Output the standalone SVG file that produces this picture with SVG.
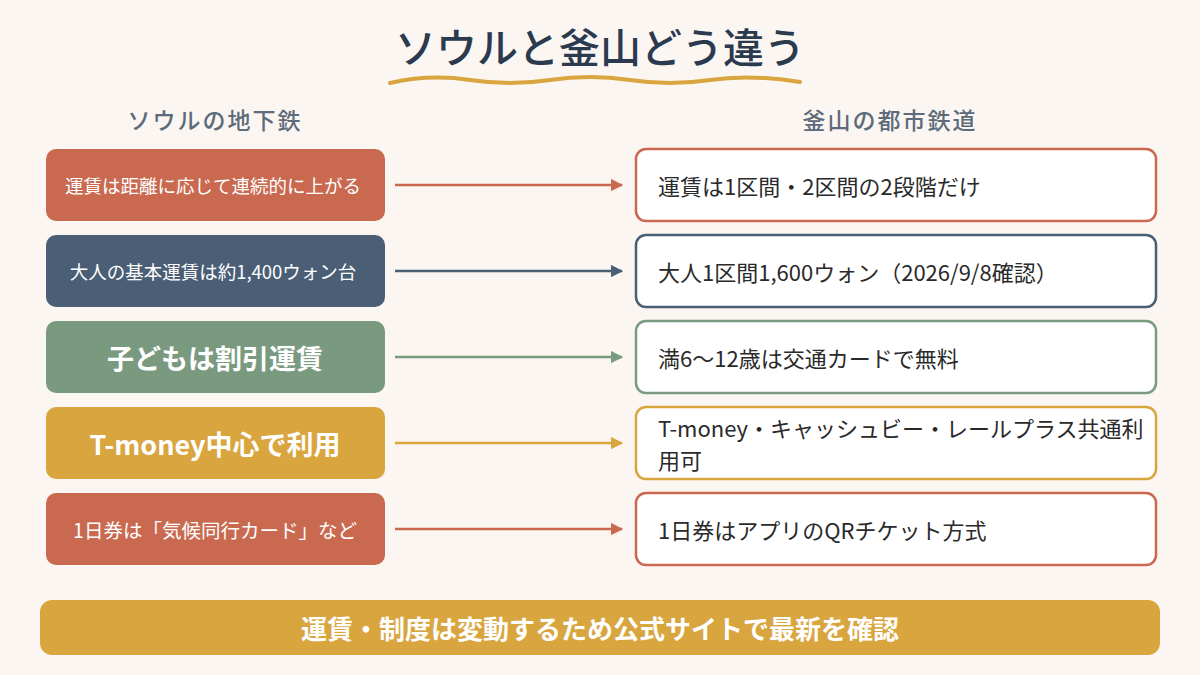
<svg xmlns="http://www.w3.org/2000/svg" width="1200" height="675" viewBox="0 0 1200 675">
<defs>
<style>
text{font-family:"Noto Sans CJK JP","Noto Sans",sans-serif}
.lt{fill:#fff;text-anchor:middle;dominant-baseline:central}
.rt{fill:#2a2a2a;font-size:22px;dominant-baseline:central}
.rb{fill:#fff;stroke-width:2.5}
.hd{fill:#5d6b7a;font-size:23px;text-anchor:middle;font-weight:500;letter-spacing:2px}
.ar{stroke-width:2.5;fill:none}
</style>
<marker id="mo" viewBox="0 0 10 10" refX="9" refY="5" markerWidth="5" markerHeight="5" orient="auto"><path d="M0,0L10,5L0,10z" fill="#c96a50"/></marker>
<marker id="mn" viewBox="0 0 10 10" refX="9" refY="5" markerWidth="5" markerHeight="5" orient="auto"><path d="M0,0L10,5L0,10z" fill="#4a5e75"/></marker>
<marker id="mg" viewBox="0 0 10 10" refX="9" refY="5" markerWidth="5" markerHeight="5" orient="auto"><path d="M0,0L10,5L0,10z" fill="#7a9a80"/></marker>
<marker id="my" viewBox="0 0 10 10" refX="9" refY="5" markerWidth="5" markerHeight="5" orient="auto"><path d="M0,0L10,5L0,10z" fill="#d9a53f"/></marker>
</defs>
<rect width="1200" height="675" fill="#fbf6f1"/>
<text x="600" y="63" font-size="41" font-weight="500" fill="#2b3a4e" text-anchor="middle">ソウルと釜山どう違う</text>
<path d="M390,83 Q430,74 470,80 T550,80 T630,80 T710,80 T800,82" stroke="#d9a53f" stroke-width="4" fill="none" stroke-linecap="round"/>
<text class="hd" x="215" y="129">ソウルの地下鉄</text>
<text class="hd" x="890" y="129">釜山の都市鉄道</text>

<g id="l1"><rect x="46" y="149" width="339" height="72" rx="10" fill="#c96a50"/><text class="lt" x="213" y="185" font-size="18.5">運賃は距離に応じて連続的に上がる</text></g>
<g id="l2"><rect x="46" y="235" width="339" height="72" rx="10" fill="#4a5e75"/><text class="lt" x="213" y="271" font-size="18.5">大人の基本運賃は約1,400ウォン台</text></g>
<g id="l3"><rect x="46" y="321" width="339" height="72" rx="10" fill="#7a9a80"/><text class="lt" x="215" y="357" font-size="27" font-weight="bold">子どもは割引運賃</text></g>
<g id="l4"><rect x="46" y="407" width="339" height="72" rx="10" fill="#d9a53f"/><text class="lt" x="215" y="443" font-size="27" font-weight="bold">T-money中心で利用</text></g>
<g id="l5"><rect x="46" y="493" width="339" height="72" rx="10" fill="#c96a50"/><text class="lt" x="215" y="529" font-size="19.5">1日券は「気候同行カード」など</text></g>

<g id="r1"><rect class="rb" x="636" y="149" width="520" height="72" rx="10" stroke="#c96a50"/><text class="rt" x="658" y="185">運賃は1区間・2区間の2段階だけ</text></g>
<g id="r2"><rect class="rb" x="636" y="235" width="520" height="72" rx="10" stroke="#4a5e75"/><text class="rt" x="658" y="271">大人1区間1,600ウォン（2026/9/8確認）</text></g>
<g id="r3"><rect class="rb" x="636" y="321" width="520" height="72" rx="10" stroke="#7a9a80"/><text class="rt" x="658" y="357">満6〜12歳は交通カードで無料</text></g>
<g id="r4"><rect class="rb" x="636" y="407" width="520" height="72" rx="10" stroke="#d9a53f"/><text class="rt" x="658" y="427">T-money・キャッシュビー・レールプラス共通利</text><text class="rt" x="658" y="459">用可</text></g>
<g id="r5"><rect class="rb" x="636" y="493" width="520" height="72" rx="10" stroke="#c96a50"/><text class="rt" x="658" y="529">1日券はアプリのQRチケット方式</text></g>

<g id="connectors">
<line class="ar" x1="395" y1="185" x2="622" y2="185" stroke="#c96a50" marker-end="url(#mo)"/>
<line class="ar" x1="395" y1="271" x2="622" y2="271" stroke="#4a5e75" marker-end="url(#mn)"/>
<line class="ar" x1="395" y1="357" x2="622" y2="357" stroke="#7a9a80" marker-end="url(#mg)"/>
<line class="ar" x1="395" y1="443" x2="622" y2="443" stroke="#d9a53f" marker-end="url(#my)"/>
<line class="ar" x1="395" y1="529" x2="622" y2="529" stroke="#c96a50" marker-end="url(#mo)"/>
</g>

<g id="footer"><rect x="40" y="600" width="1120" height="55" rx="12" fill="#d9a53f"/><text class="lt" x="600" y="627" font-size="26" font-weight="bold">運賃・制度は変動するため公式サイトで最新を確認</text></g>
</svg>
